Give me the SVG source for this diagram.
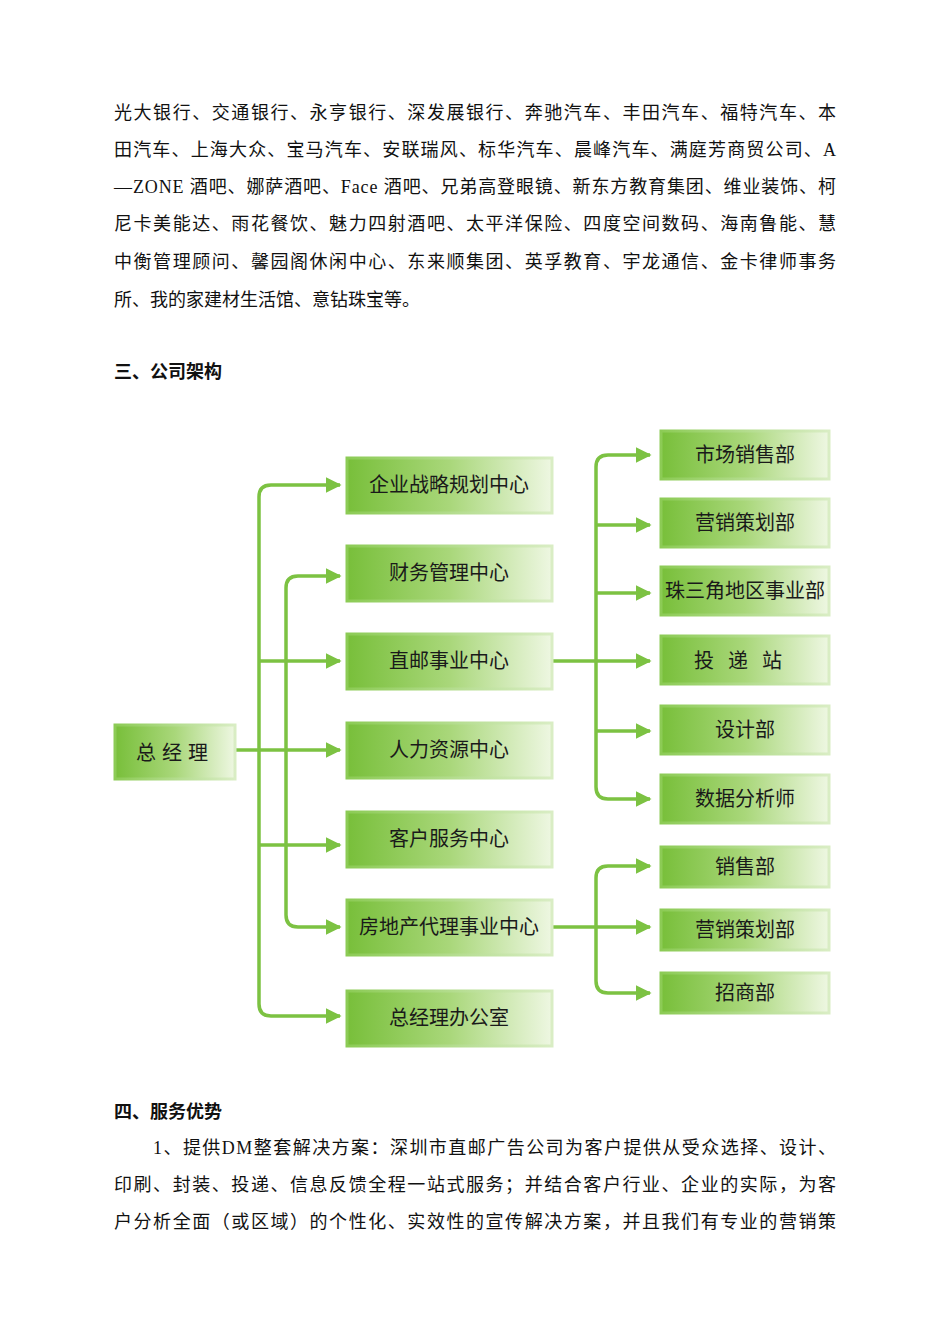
<svg xmlns="http://www.w3.org/2000/svg" width="950" height="1344" viewBox="0 0 950 1344">
<defs>
<linearGradient id="g" x1="0" x2="1" y1="0" y2="0"><stop offset="0" stop-color="#78bf3a"/><stop offset="0.5" stop-color="#a9d77a"/><stop offset="1" stop-color="#eef7e2"/></linearGradient>
<linearGradient id="e" x1="0" x2="1"><stop offset="0" stop-color="#8ccb55"/><stop offset="1" stop-color="#d9edc4"/></linearGradient>
<marker id="a" viewBox="0 0 10 10" refX="9" refY="5" markerWidth="4.5" markerHeight="4.5" orient="auto" markerUnits="strokeWidth"><path d="M0,0L10,5L0,10z" fill="#7cc242"/></marker>
</defs>
<style>
.t{font-family:"Liberation Serif","Noto Sans CJK SC",serif;font-size:18px;fill:#111}
.h{font-family:"Noto Sans CJK SC",sans-serif;font-size:18px;font-weight:bold;fill:#111}
.b{fill:url(#g);stroke:url(#e);stroke-width:3}
.n{font-family:"Noto Sans CJK SC",sans-serif;font-size:20px;fill:#1a1a1a;text-anchor:middle}
.c{fill:none;stroke:#7cc242;stroke-width:3.5;marker-end:url(#a)}
.l{fill:none;stroke:#7cc242;stroke-width:3.5}
</style>
<rect width="950" height="1344" fill="#fff"/>
<text class="t" x="114" y="119" textLength="722" lengthAdjust="spacing">光大银行、交通银行、永亨银行、深发展银行、奔驰汽车、丰田汽车、福特汽车、本</text>
<text class="t" x="114" y="156" textLength="722" lengthAdjust="spacing">田汽车、上海大众、宝马汽车、安联瑞风、标华汽车、晨峰汽车、满庭芳商贸公司、A</text>
<text class="t" x="114" y="193" textLength="722" lengthAdjust="spacing">—ZONE 酒吧、娜萨酒吧、Face 酒吧、兄弟高登眼镜、新东方教育集团、维业装饰、柯</text>
<text class="t" x="114" y="230" textLength="722" lengthAdjust="spacing">尼卡美能达、雨花餐饮、魅力四射酒吧、太平洋保险、四度空间数码、海南鲁能、慧</text>
<text class="t" x="114" y="268" textLength="722" lengthAdjust="spacing">中衡管理顾问、馨园阁休闲中心、东来顺集团、英孚教育、宇龙通信、金卡律师事务</text>
<text class="t" x="114" y="306">所、我的家建材生活馆、意钻珠宝等。</text>
<text class="h" x="114" y="378">三、公司架构</text>
<g id="connectors">
<path class="l" d="M236,750H259"/>
<path class="c" d="M259,1004V497Q259,485 271,485H340"/>
<path class="c" d="M259,1004Q259,1016 271,1016H340"/>
<path class="c" d="M286,915V588Q286,576 298,576H340"/>
<path class="c" d="M286,915Q286,927 298,927H340"/>
<path class="c" d="M259,661H340"/><path class="c" d="M259,750H340"/><path class="c" d="M259,845H340"/>
<path class="c" d="M553,661H650"/>
<path class="c" d="M596,787V467Q596,455 608,455H650"/>
<path class="c" d="M596,787Q596,799 608,799H650"/>
<path class="c" d="M596,525H650"/><path class="c" d="M596,593H650"/><path class="c" d="M596,731H650"/>
<path class="c" d="M548,927H650"/>
<path class="c" d="M596,981V878Q596,866 608,866H650"/>
<path class="c" d="M596,981Q596,993 608,993H650"/>
</g>
<g id="n0"><rect class="b" x="115" y="725" width="120" height="54"/><text class="n" x="175" y="760" font-size="24" letter-spacing="6">总经理</text></g>
<g id="n1"><rect class="b" x="347" y="458" width="205" height="55"/><text class="n" x="449" y="492">企业战略规划中心</text></g>
<g id="n2"><rect class="b" x="347" y="546" width="205" height="55"/><text class="n" x="449" y="580">财务管理中心</text></g>
<g id="n3"><rect class="b" x="347" y="634" width="205" height="55"/><text class="n" x="449" y="668">直邮事业中心</text></g>
<g id="n4"><rect class="b" x="347" y="723" width="205" height="55"/><text class="n" x="449" y="757">人力资源中心</text></g>
<g id="n5"><rect class="b" x="347" y="812" width="205" height="55"/><text class="n" x="449" y="846">客户服务中心</text></g>
<g id="n6"><rect class="b" x="347" y="900" width="205" height="55"/><text class="n" x="449" y="934">房地产代理事业中心</text></g>
<g id="n7"><rect class="b" x="347" y="991" width="205" height="55"/><text class="n" x="449" y="1025">总经理办公室</text></g>
<g id="r1"><rect class="b" x="661" y="431" width="168" height="48"/><text class="n" x="745" y="462">市场销售部</text></g>
<g id="r2"><rect class="b" x="661" y="499" width="168" height="48"/><text class="n" x="745" y="530">营销策划部</text></g>
<g id="r3"><rect class="b" x="661" y="567" width="168" height="48"/><text class="n" x="745" y="598">珠三角地区事业部</text></g>
<g id="r4"><rect class="b" x="661" y="636" width="168" height="48"/><text class="n" x="745" y="668" font-size="22" letter-spacing="14">投递站</text></g>
<g id="r5"><rect class="b" x="661" y="706" width="168" height="48"/><text class="n" x="745" y="737">设计部</text></g>
<g id="r6"><rect class="b" x="661" y="775" width="168" height="48"/><text class="n" x="745" y="806">数据分析师</text></g>
<g id="r7"><rect class="b" x="661" y="847" width="168" height="40"/><text class="n" x="745" y="874">销售部</text></g>
<g id="r8"><rect class="b" x="661" y="910" width="168" height="40"/><text class="n" x="745" y="937">营销策划部</text></g>
<g id="r9"><rect class="b" x="661" y="973" width="168" height="40"/><text class="n" x="745" y="1000">招商部</text></g>
<text class="h" x="114" y="1118">四、服务优势</text>
<text class="t" x="153" y="1154" textLength="683" lengthAdjust="spacing">1、提供DM整套解决方案：深圳市直邮广告公司为客户提供从受众选择、设计、</text>
<text class="t" x="114" y="1191" textLength="722" lengthAdjust="spacing">印刷、封装、投递、信息反馈全程一站式服务；并结合客户行业、企业的实际，为客</text>
<text class="t" x="114" y="1228" textLength="722" lengthAdjust="spacing">户分析全面（或区域）的个性化、实效性的宣传解决方案，并且我们有专业的营销策</text>
</svg>
